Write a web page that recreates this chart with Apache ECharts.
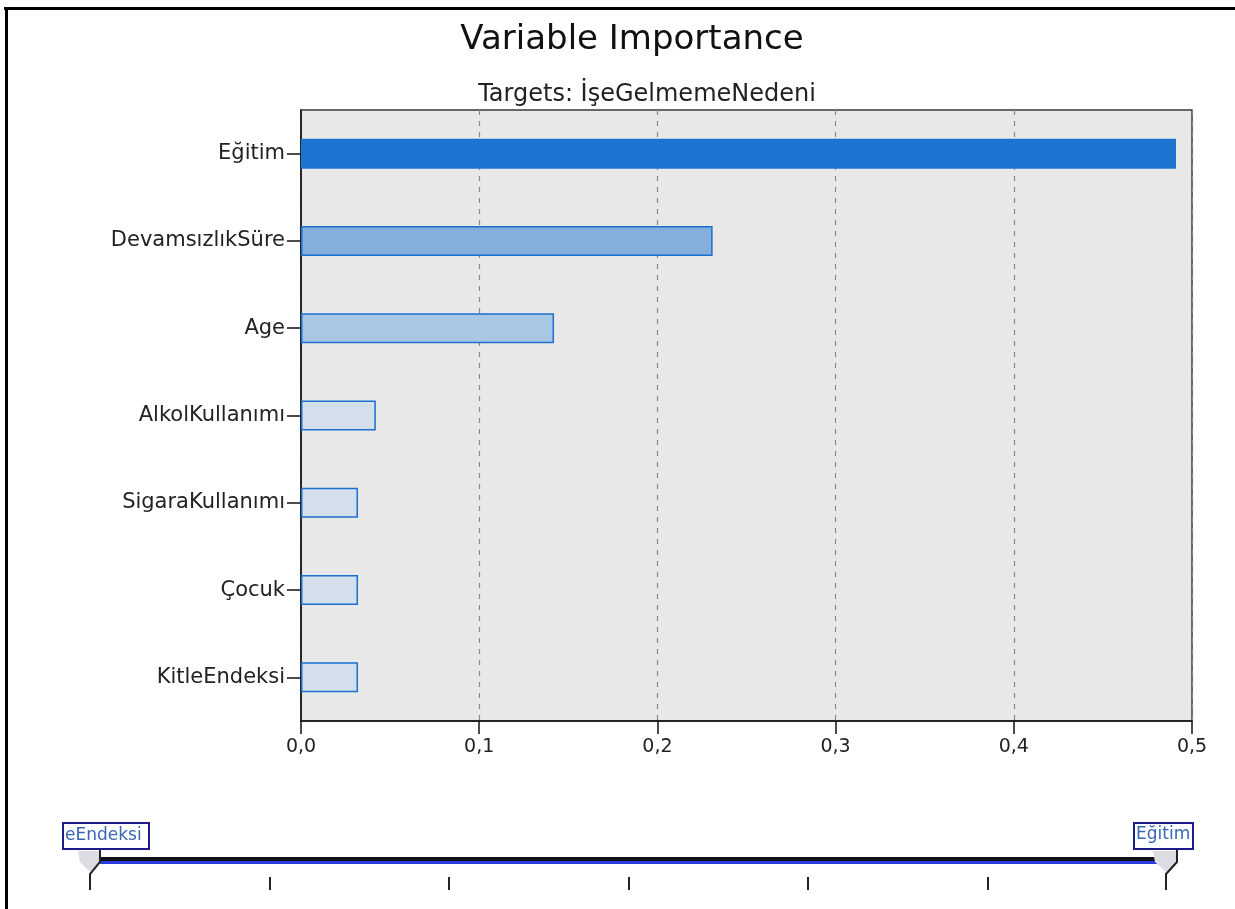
<!DOCTYPE html>
<html>
<head>
<meta charset="utf-8">
<script src="https://cdn.jsdelivr.net/npm/echarts@6/dist/echarts.min.js"></script>
<style>html,body{margin:0;padding:0;background:#fff;}#c{width:1235px;height:909px;}</style>
</head>
<body>
<div id="c"></div>
<script>
var categories = ['Eğitim', 'DevamsızlıkSüre', 'Age', 'AlkolKullanımı', 'SigaraKullanımı', 'Çocuk', 'KitleEndeksi'];
var importance = [0.491, 0.231, 0.142, 0.042, 0.032, 0.032, 0.032];
var fills = ['#1b74cf', '#84afdd', '#a9c6e4', '#d3dfea', '#d3dfea', '#d3dfea', '#d3dfea'];
var xTicks = [0, 0.1, 0.2, 0.3, 0.4, 0.5];
var sliderLeftLabel = 'eEndeksi';
var sliderRightLabel = 'Eğitim';
var FONT = 'DejaVu Sans';

var chart = echarts.init(document.getElementById('c'), null, {renderer: 'canvas'});
var sliderTicks = [270, 449, 629, 808, 988].map(function (x) {
  return {type: 'line', shape: {x1: x, y1: 877, x2: x, y2: 890}, style: {stroke: '#222', lineWidth: 2}};
});
chart.setOption({
  animation: false,
  backgroundColor: '#fff',
  title: [
    {text: 'Variable Importance', left: 627, top: 18, textAlign: 'center',
     textStyle: {fontFamily: FONT, fontSize: 34, fontWeight: 'normal', color: '#111'}},
    {text: 'Targets: İşeGelmemeNedeni', left: 642, top: 78, textAlign: 'center',
     textStyle: {fontFamily: FONT, fontSize: 24, fontWeight: 'normal', color: '#222'}}
  ],
  grid: {left: 301, right: 43, top: 110, bottom: 188, show: true,
         backgroundColor: '#e8e8e8', borderColor: '#3a3a3a', borderWidth: 1.5},
  xAxis: {
    type: 'value', min: 0, max: 0.5, interval: 0.1,
    axisLine: {show: true, lineStyle: {color: '#111', width: 1.5}},
    axisTick: {show: true, length: 13, lineStyle: {color: '#111', width: 1.5}},
    axisLabel: {fontFamily: FONT, fontSize: 19, color: '#222', margin: 17,
                formatter: function (v) { return v.toFixed(1).replace('.', ','); }},
    splitLine: {show: true, lineStyle: {color: '#888', type: [5, 6], width: 1.2}}
  },
  yAxis: {
    type: 'category', data: categories, inverse: true,
    axisLine: {show: true, lineStyle: {color: '#111', width: 1.5}},
    axisTick: {show: true, length: 14, alignWithLabel: true, lineStyle: {color: '#111', width: 1.5}},
    axisLabel: {fontFamily: FONT, fontSize: 21, color: '#222', margin: 16},
    splitLine: {show: false}
  },
  series: [{
    type: 'bar', barWidth: 30,
    data: importance.map(function (v, i) {
      return {value: v, itemStyle: {color: fills[i], borderColor: i === 0 ? '#1b74cf' : '#1a6fd0', borderWidth: 1.5}};
    })
  }],
  graphic: [
    {type: 'line', shape: {x1: 4, y1: 8.5, x2: 1235, y2: 8.5}, style: {stroke: '#000', lineWidth: 3}},
    {type: 'line', shape: {x1: 6.5, y1: 7, x2: 6.5, y2: 909}, style: {stroke: '#000', lineWidth: 3}},
    {type: 'rect', shape: {x: 100, y: 857, width: 1060, height: 4}, style: {fill: '#111'}},
    {type: 'rect', shape: {x: 100, y: 861, width: 1060, height: 3}, style: {fill: '#2b3be0'}},
    {type: 'polygon', shape: {points: [[78, 851], [100, 851], [100, 862], [90, 872], [80, 862]]}, style: {fill: '#dcdce2'}},
    {type: 'polyline', shape: {points: [[100, 849], [100, 862], [90, 874], [90, 890]]}, style: {stroke: '#222', lineWidth: 2, fill: null}},
    {type: 'polygon', shape: {points: [[1153, 851], [1177, 851], [1177, 862], [1166, 872], [1155, 862]]}, style: {fill: '#dcdce2'}},
    {type: 'polyline', shape: {points: [[1177, 849], [1177, 862], [1166, 874], [1166, 890]]}, style: {stroke: '#222', lineWidth: 2, fill: null}},
    {type: 'rect', shape: {x: 63, y: 823, width: 86, height: 26}, style: {fill: '#fff', stroke: '#1c1c8c', lineWidth: 2}},
    {type: 'text', left: 65, top: 827, style: {text: sliderLeftLabel, font: '17px "DejaVu Sans"', fill: '#3a66b5'}},
    {type: 'rect', shape: {x: 1134, y: 823, width: 59, height: 26}, style: {fill: '#fff', stroke: '#1c1c8c', lineWidth: 2}},
    {type: 'text', left: 1136, top: 826, style: {text: sliderRightLabel, font: '17px "DejaVu Sans"', fill: '#3a66b5', width: 56, overflow: 'truncate', ellipsis: ''}}
  ].concat(sliderTicks)
});
</script>
</body>
</html>
